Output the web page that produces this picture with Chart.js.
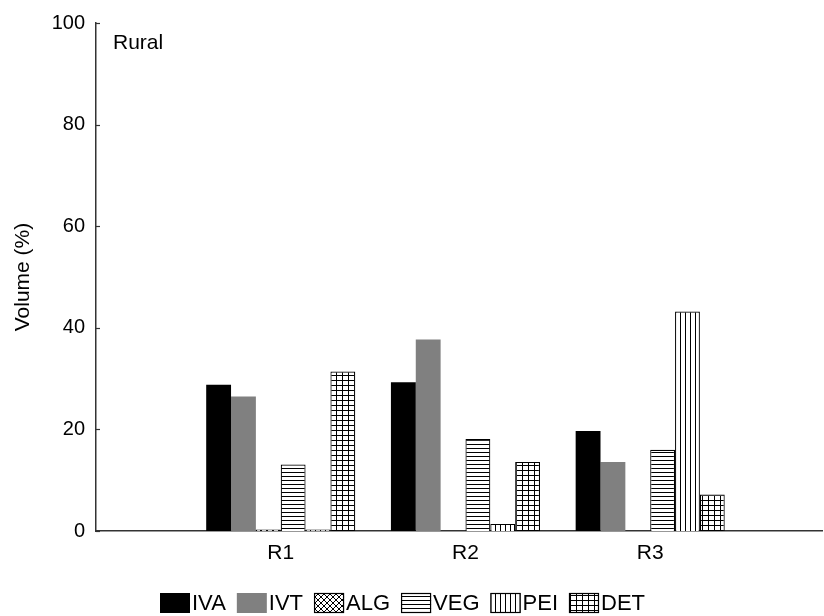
<!DOCTYPE html>
<html><head><meta charset="utf-8">
<script src="https://cdn.jsdelivr.net/npm/chart.js@4"></script>
<style>html,body{margin:0;padding:0;background:#fff}#wrap{width:824px;height:616px;position:relative}</style>
</head><body><div id="wrap"><canvas id="c" width="824" height="616"></canvas></div>
<script>
const categories = ['R1', 'R2', 'R3'];
const seriesNames = ['IVA', 'IVT', 'ALG', 'VEG', 'PEI', 'DET'];
const IVA = [28.8, 29.3, 19.7];
const IVT = [26.5, 37.7, 13.6];
const ALG = [0.3, 0, 0];
const VEG = [13.1, 18.1, 16.0];
const PEI = [0.3, 1.4, 43.2];
const DET = [31.4, 13.6, 7.2];
const yTicks = [0, 20, 40, 60, 80, 100];
const panelLabel = 'Rural';
const yTitle = 'Volume (%)';

const FONT = "'Liberation Sans', Arial, sans-serif";

function makePattern(kind) {
  const c = document.createElement('canvas');
  const sizes = {ALG: [6, 6], VEG: [4, 4], PEI: [5, 5], DET: [6, 5]};
  const [w, h] = sizes[kind];
  c.width = w; c.height = h;
  const g = c.getContext('2d');
  g.fillStyle = '#fff'; g.fillRect(0, 0, w, h);
  g.strokeStyle = '#000'; g.fillStyle = '#000'; g.lineWidth = 1;
  if (kind === 'VEG') { g.fillRect(0, 0, w, 1); }
  if (kind === 'PEI') { g.fillRect(0, 0, 1, h); }
  if (kind === 'DET') { g.fillRect(0, 0, w, 1); g.fillRect(0, 0, 1, h); }
  if (kind === 'ALG') {
    g.beginPath();
    g.moveTo(0, 0); g.lineTo(w, h);
    g.moveTo(0, h); g.lineTo(w, 0);
    g.stroke();
  }
  return document.getElementById('c').getContext('2d').createPattern(c, 'repeat');
}

const seriesValues = {IVA, IVT, ALG, VEG, PEI, DET};
const fills = {IVA: '#000000', IVT: '#808080'};
const datasets = seriesNames.map(name => ({
  label: name,
  data: categories.map((c, i) => ({x: i + 1, y: seriesValues[name][i]})),
  backgroundColor: fills[name] || makePattern(name),
  borderColor: name === 'IVT' ? '#8a8a8a' : '#000',
  borderWidth: name === 'IVA' || name === 'IVT' ? 0 : 1.2,
  categoryPercentage: 0.807,
  barPercentage: 1.0
}));

const extras = {
  id: 'extras',
  afterDraw(chart) {
    const ctx = chart.ctx;
    const a = chart.chartArea;
    const ys = chart.scales.y;
    ctx.save();
    // inward ticks
    ctx.strokeStyle = '#333'; ctx.lineWidth = 1.2;
    yTicks.forEach(v => {
      const p = Math.round(ys.getPixelForValue(v)) + 0.5;
      ctx.beginPath(); ctx.moveTo(a.left, p); ctx.lineTo(a.left + 4, p); ctx.stroke();
    });
    // panel label
    ctx.fillStyle = '#000';
    ctx.font = '21px ' + FONT;
    ctx.textBaseline = 'middle';
    ctx.textAlign = 'left';
    ctx.fillText(panelLabel, a.left + 17, a.top + 20);
    // legend
    ctx.font = '22px ' + FONT;
    const box = 30, bh = 20, tg = 2, ig = 11;
    let x = 160; const y = 593;
    chart.data.datasets.forEach(d => {
      ctx.fillStyle = d.backgroundColor;
      ctx.fillRect(x, y, box, bh);
      if (d.borderWidth > 0) {
        ctx.strokeStyle = '#000'; ctx.lineWidth = 1.2;
        ctx.strokeRect(x + 0.5, y + 0.5, box - 1, bh - 1);
      }
      ctx.fillStyle = '#000';
      ctx.fillText(d.label, x + box + tg, y + bh / 2 + 1);
      x += box + tg + ctx.measureText(d.label).width + ig;
    });
    ctx.restore();
  }
};

Chart.defaults.font.family = FONT;
new Chart(document.getElementById('c'), {
  type: 'bar',
  data: {datasets},
  plugins: [extras],
  options: {
    responsive: false,
    devicePixelRatio: 1,
    animation: false,
    layout: {padding: {top: 22, right: 2, left: 0, bottom: 0}},
    plugins: {legend: {display: false}, tooltip: {enabled: false}},
    scales: {
      x: {
        type: 'linear', min: 0, max: 3.93, offset: false,
        grid: {display: false, drawTicks: false},
        border: {display: true, color: '#333', width: 1.5},
        ticks: {
          stepSize: 1, includeBounds: false, autoSkip: false, maxRotation: 0,
          padding: 10, color: '#000', font: {size: 21},
          callback: v => categories[v - 1] ?? ''
        },
        afterFit(s) { s.height = 85; }
      },
      y: {
        min: 0, max: 100,
        grid: {display: false, drawTicks: false},
        border: {display: true, color: '#333', width: 1.5},
        ticks: {stepSize: 20, padding: 11, color: '#000', font: {size: 20},
          callback: v => yTicks.includes(v) ? String(v) : ''},
        title: {display: true, text: yTitle, color: '#000', font: {size: 21}, padding: {top: 11, bottom: 0}},
        afterFit(s) { s.width = 96; }
      }
    }
  }
});
</script>
</body></html>
